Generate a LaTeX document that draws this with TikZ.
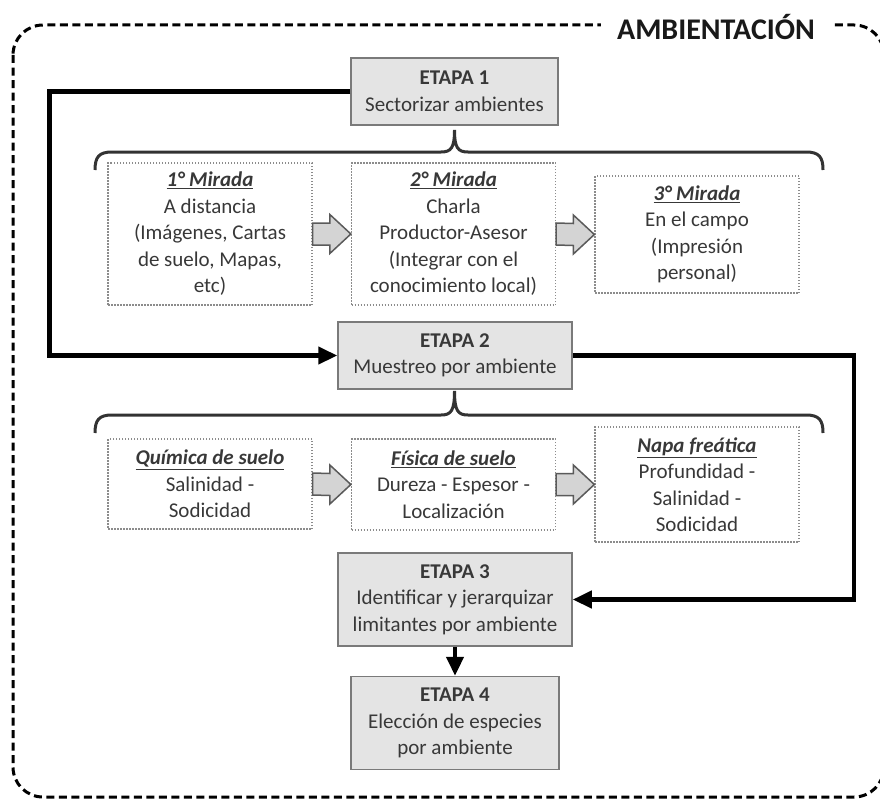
\documentclass[tikz,border=0pt]{standalone}
\usepackage{fontspec}
\setmainfont{Carlito}
\usetikzlibrary{positioning, arrows.meta}

\definecolor{etapafill}{HTML}{E4E4E4}
\definecolor{etapaline}{HTML}{7A7A7A}
\definecolor{dotline}{HTML}{8C8C8C}
\definecolor{arrowfill}{HTML}{D4D4D4}
\definecolor{arrowline}{HTML}{5A5A5A}
\definecolor{textgray}{HTML}{383838}

% block arrow from the east side of #1 to the west side of #2
\newcommand{\flecha}[2]{%
  \draw[bloque] ([yshift=11pt]#1.east) -- ([xshift=-21pt,yshift=11pt]#2.west)
    -- ([xshift=-21pt,yshift=19.5pt]#2.west) -- (#2.west)
    -- ([xshift=-21pt,yshift=-19.5pt]#2.west) -- ([xshift=-21pt,yshift=-11pt]#2.west)
    -- ([yshift=-11pt]#1.east) -- cycle;}

\begin{document}
\begin{tikzpicture}[x=1pt, y=-1pt,
    every node/.style={font=\fontsize{21}{26.5}\selectfont, text=textgray, align=center, inner sep=0pt},
    etapa/.style={draw=etapaline, line width=1.5pt, fill=etapafill},
    mirada/.style={draw=dotline, line width=1.3pt, dash pattern=on 1.5pt off 1.5pt, minimum width=204pt},
    flow/.style={line width=4.5pt, -{Triangle[length=19pt,width=17pt]}},
    llave/.style={line width=3pt, draw=black!80},
    bloque/.style={draw=arrowline, line width=1.5pt, fill=arrowfill, line join=miter},
    marco/.style={line width=3pt, dash pattern=on 8pt off 4.5pt, rounded corners=30pt}]
    \useasboundingbox (0,0) rectangle (880,800);

    % outer frame and title
    \draw[marco] (13,25) rectangle (884,797);
    \node[fill=white, inner xsep=16pt, inner ysep=2pt, text=black!90,
          font=\fontsize{30}{36}\selectfont\bfseries] (titulo) at (716,27) {AMBIENTACIÓN};

    % stages
    \node[etapa, minimum width=207pt, minimum height=67pt] (e1) at (454.5,91.5) {\textbf{ETAPA 1}\\Sectorizar ambientes};
    \node[etapa, minimum width=234pt, minimum height=67pt] (e2) at (455,355.5) {\textbf{ETAPA 2}\\Muestreo por ambiente};
    \node[etapa, minimum width=234pt, minimum height=93pt] (e3) at (455,599.5) {\textbf{ETAPA 3}\\Identificar y jerarquizar\\limitantes por ambiente};
    \node[etapa, minimum width=208pt, minimum height=93pt, below=29pt of e3] (e4) {\textbf{ETAPA 4}\\Elección de especies\\por ambiente};

    % first row
    \node[mirada, minimum height=142pt] (m1) at (210,234) {\underline{\textbf{\textit{1° Mirada}}}\\A distancia\\(Imágenes, Cartas\\de suelo, Mapas,\\etc)};
    \node[mirada, minimum height=142pt] (m2) at (453.5,234) {\underline{\textbf{\textit{2° Mirada}}}\\Charla\\Productor-Asesor\\(Integrar con el\\conocimiento local)};
    \node[mirada, minimum height=117pt] (m3) at (697,234.5) {\underline{\textbf{\textit{3° Mirada}}}\\En el campo\\(Impresión\\personal)};

    % second row
    \node[mirada, minimum height=90pt] (q1) at (210,484) {\underline{\textbf{\textit{Química de suelo}}}\\Salinidad -\\Sodicidad};
    \node[mirada, minimum height=91pt] (q2) at (453.5,484.5) {\underline{\textbf{\textit{Física de suelo}}}\\Dureza - Espesor -\\Localización};
    \node[mirada, minimum height=115pt] (q3) at (697,484.5) {\underline{\textbf{\textit{Napa freática}}}\\Profundidad -\\Salinidad -\\Sodicidad};

    \flecha{m1}{m2}
    \flecha{m2}{m3}
    \flecha{q1}{q2}
    \flecha{q2}{q3}

    % braces
    \draw[llave] (95,170) .. controls (95,157) and (99,152) .. (112,152) -- (441,152)
        .. controls (451,152) and (454.5,148) .. (454.5,130)
        .. controls (454.5,148) and (458,152) .. (468,152) -- (806,152)
        .. controls (819,152) and (823,157) .. (823,170);
    \draw[llave] (95,433) .. controls (95,420) and (99,415) .. (112,415) -- (441,415)
        .. controls (451,415) and (454.5,411) .. (454.5,391)
        .. controls (454.5,411) and (458,415) .. (468,415) -- (806,415)
        .. controls (819,415) and (823,420) .. (823,433);

    % connectors
    \draw[flow] (e1.west) -- ++(-301,0) |- (e2.west);
    \draw[flow] (e2.east) -- ++(281,0) |- (e3.east);
    \draw[flow] (e3.south) -- (e4.north);
\end{tikzpicture}
\end{document}
